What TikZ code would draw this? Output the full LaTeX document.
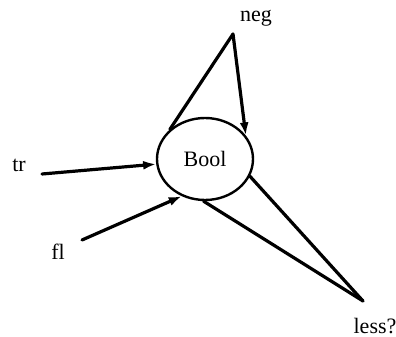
\documentclass[tikz,border=0pt]{standalone}
\usepackage{fontspec}
\setmainfont{Liberation Serif}
\usetikzlibrary{shapes.geometric,arrows.meta}
\begin{document}
\begin{tikzpicture}[x=1pt,y=-1pt,
  lbl/.style={font=\fontsize{22}{24}\selectfont, inner sep=0pt},
  conn/.style={line width=3.2pt, line cap=round},
  arr/.style={conn, -{Latex[length=13pt,width=9pt]}}]
\useasboundingbox (0,0) rectangle (396,337);
\node[ellipse, draw, line width=2.4pt, minimum width=96pt, minimum height=82pt, inner sep=0pt, font=\fontsize{22}{24}\selectfont] (bool) at (205,159) {Bool};
\node[lbl] (neg) at (256,18) {neg};
\node[lbl] (tr) at (19,165) {tr};
\node[lbl] (fl) at (58,252) {fl};
\node[lbl] (less) at (375,326) {less?};
\coordinate (negp) at (233,34);
\coordinate (trp) at (42,174);
\coordinate (flp) at (82,240);
\coordinate (lessp) at (363,301);
\draw[conn] (negp) -- (bool.140);
\draw[arr] (negp) -- (bool.30);
\draw[arr] (trp) -- (bool.186);
\draw[arr] (flp) -- (bool.238);
\draw[conn] (bool.-21) -- (lessp);
\draw[conn] (bool.-92) -- (lessp);
\end{tikzpicture}
\end{document}
